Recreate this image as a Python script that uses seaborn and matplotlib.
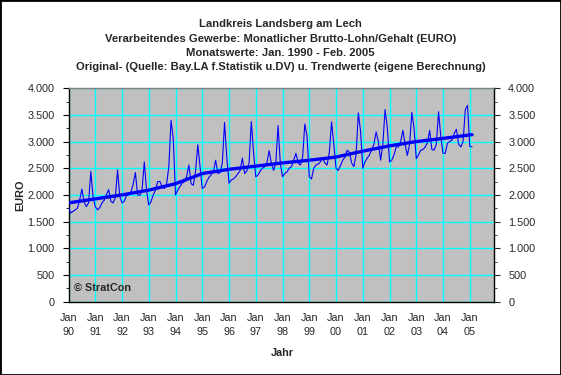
import numpy as np
import pandas as pd
import matplotlib
matplotlib.use("Agg")
import matplotlib.pyplot as plt
import seaborn as sns
from matplotlib.ticker import FuncFormatter, MultipleLocator
from matplotlib.patches import Rectangle

# ---------------- data (monthly gross wage, EURO) ----------------
v1990 = [1770, 1660, 1690, 1720, 1750, 1900, 2110, 1870, 1780, 1850, 2440, 1970]
v1991 = [1780, 1720, 1760, 1850, 1900, 2000, 2100, 1880, 1850, 1950, 2470, 1970]
v1992 = [1850, 1880, 1990, 2000, 2050, 2200, 2420, 2000, 1990, 2100, 2620, 2090]
v1993 = [1810, 1870, 2000, 2090, 2250, 2250, 2160, 2120, 2200, 2530, 3400, 3050]
v1994 = [2000, 2090, 2160, 2220, 2250, 2350, 2560, 2210, 2180, 2450, 2940, 2530]
v1995 = [2120, 2150, 2250, 2330, 2380, 2440, 2650, 2400, 2420, 2600, 3360, 2700]
v1996 = [2220, 2280, 2300, 2340, 2400, 2460, 2690, 2400, 2450, 2600, 3375, 2800]
v1997 = [2340, 2370, 2450, 2500, 2530, 2600, 2830, 2590, 2460, 2600, 3300, 2600]
v1998 = [2340, 2400, 2430, 2500, 2530, 2650, 2780, 2600, 2560, 2700, 3330, 3100]
v1999 = [2340, 2300, 2500, 2560, 2580, 2620, 2700, 2600, 2560, 2800, 3370, 2950]
v2000 = [2500, 2460, 2550, 2650, 2710, 2840, 2800, 2600, 2530, 2750, 3540, 3200]
v2001 = [2500, 2620, 2690, 2750, 2850, 2950, 3180, 3000, 2650, 2950, 3600, 3270]
v2002 = [2620, 2650, 2750, 2900, 2900, 3000, 3210, 2950, 2740, 2950, 3550, 3250]
v2003 = [2680, 2750, 2840, 2850, 2900, 2980, 3210, 2850, 2840, 2950, 3560, 3100]
v2004 = [2780, 2780, 2970, 3000, 3030, 3150, 3230, 2950, 2900, 3000, 3600, 3680]
v2005 = [2910, 2900]

trend_dates = ["1990-01", "1991-01", "1992-01", "1993-01", "1994-01", "1995-01",
               "1996-01", "1997-01", "1998-01", "1999-01", "2000-01", "2001-01",
               "2002-01", "2003-01", "2004-01", "2005-01", "2005-02"]
trend_values = [1850, 1925, 2000, 2090, 2210, 2400, 2480, 2540, 2600, 2650,
                2710, 2820, 2920, 3000, 3060, 3125, 3130]

years = list(range(1990, 2006))
tick_labels = [f"Jan\n{y % 100:02d}" for y in years]
y_ticks = [0, 500, 1000, 1500, 2000, 2500, 3000, 3500, 4000]

title_lines = ["Landkreis Landsberg am Lech",
               "Verarbeitendes Gewerbe: Monatlicher Brutto-Lohn/Gehalt (EURO)",
               "Monatswerte: Jan. 1990 - Feb. 2005",
               "Original- (Quelle: Bay.LA f.Statistik u.DV) u. Trendwerte (eigene Berechnung)"]

# ---------------- build frames ----------------
values = (v1990 + v1991 + v1992 + v1993 + v1994 + v1995 + v1996 + v1997 +
          v1998 + v1999 + v2000 + v2001 + v2002 + v2003 + v2004 + v2005)
orig = pd.DataFrame({"monat": np.arange(len(values)), "EURO": values})


def month_index(s):
    y, m = s.split("-")
    return (int(y) - years[0]) * 12 + int(m) - 1


trend = pd.DataFrame({"monat": [month_index(d) for d in trend_dates],
                      "EURO": trend_values})

# ---------------- style ----------------
sns.set_style("white")
plt.rcParams['font.family'] = ['Liberation Sans', 'DejaVu Sans']
FS = 7.8
FS_T = 8.1

fig = plt.figure(figsize=(5.61, 3.75), dpi=100)
L, R, T, B = 68.5, 494.3, 88.3, 301.5
W, H = 561.0, 375.0
ax = fig.add_axes([L / W, 1 - B / H, (R - L) / W, (B - T) / H])
ax.set_facecolor('#C0C0C0')

sns.lineplot(data=orig, x="monat", y="EURO", ax=ax, color='#0000FF',
             linewidth=0.8, zorder=3)
sns.lineplot(data=trend, x="monat", y="EURO", ax=ax, color='#0000FF',
             linewidth=2.4, zorder=4)

ax.set_xlim(0, 191)
ax.set_ylim(0, 4000)
jan_pos = [(y - years[0]) * 12 for y in years]
ax.set_xticks(jan_pos)
ax.set_xticklabels(tick_labels, fontsize=FS, linespacing=1.6)
ax.xaxis.set_minor_locator(MultipleLocator(1))
ax.set_yticks(y_ticks)
fmt = FuncFormatter(lambda v, p: f"{int(v):,}".replace(",", "."))
ax.yaxis.set_major_formatter(fmt)
ax.yaxis.set_minor_locator(MultipleLocator(250))
ax.tick_params(axis='both', which='major', direction='out', length=4,
               width=0.8, color='black', labelsize=FS)
ax.tick_params(axis='x', which='major', pad=4)
ax.tick_params(axis='y', which='major', pad=6)
ax.tick_params(axis='both', which='minor', direction='out', length=2,
               width=0.6, color='black')
ax.tick_params(axis='x', which='minor', length=1.5)
ax.grid(True, which='major', color='#00FFFF', linewidth=1.0)
ax.set_axisbelow(True)
ax.set_xlabel("")
ax.set_ylabel("")

for s in ['left', 'right', 'bottom']:
    ax.spines[s].set_color('black')
    ax.spines[s].set_linewidth(1.0)
ax.spines['top'].set_color('#808080')
ax.spines['top'].set_linewidth(1.0)

ax2 = ax.twinx()
ax2.set_ylim(0, 4000)
ax2.set_yticks(y_ticks)
ax2.yaxis.set_major_formatter(fmt)
ax2.yaxis.set_minor_locator(MultipleLocator(250))
ax2.tick_params(axis='y', which='major', direction='out', length=4,
                width=0.8, labelsize=FS, pad=6)
ax2.tick_params(axis='y', which='minor', direction='out', length=2, width=0.6)
ax2.grid(False)
for s in ax2.spines.values():
    s.set_visible(False)

# ---------------- texts ----------------
for i, line in enumerate(title_lines):
    fig.text(0.5, 1 - (24.3 + 14.4 * i) / H, line, ha='center', va='center',
             fontsize=FS_T, fontweight='bold')
ax.text(0.013, 0.063, "© StratCon", transform=ax.transAxes, ha='left',
        va='center', fontsize=FS, fontweight='bold')
fig.text(20 / W, 1 - 195 / H, "EURO", rotation=90, ha='center', va='center',
         fontsize=FS, fontweight='bold')
fig.text(282 / W, 1 - 353 / H, "Jahr", ha='center', va='center',
         fontsize=FS, fontweight='bold')

fig.patches.append(Rectangle((0, 0), 1, 1, transform=fig.transFigure,
                             fill=False, edgecolor='black', linewidth=2))

fig.savefig("out.png", dpi=100, facecolor='white')
